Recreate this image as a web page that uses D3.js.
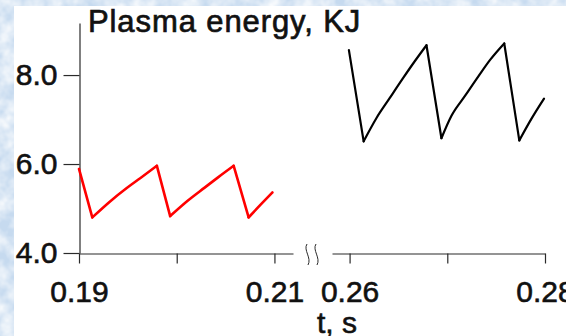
<!DOCTYPE html>
<html>
<head>
<meta charset="utf-8">
<script src="https://cdn.jsdelivr.net/npm/d3@7"></script>
<style>
  html, body { margin: 0; padding: 0; background: #cddff1; }
  svg { display: block; }
  text { font-family: "Liberation Sans", Arial, Helvetica, sans-serif; fill: #111; }
</style>
</head>
<body>
<svg id="chart" width="566" height="336"></svg>
<script>
// Plasma energy (kJ) against time (s), two windows of the discharge
const title = "Plasma energy, KJ";
const xTitle = "t, s";

const yTicks = [4.0, 6.0, 8.0];
const leftTicks = [0.19, 0.20, 0.21];
const leftTickLabels = ["0.19", "", "0.21"];
const rightTicks = [0.26, 0.27, 0.28];
const rightTickLabels = ["0.26", "", "0.28"];

// early window (red): each ramp starts at a crash minimum and climbs to the next peak
const earlyTime = [0.19000, 0.19136, 0.19318, 0.19489, 0.19626, 0.19797,
                   0.19933, 0.20115, 0.20286, 0.20423, 0.20583,
                   0.20736, 0.20856, 0.20979];
const earlyEnergy = [5.89, 4.80, 5.16, 5.46, 5.68, 5.96,
                     4.83, 5.18, 5.47, 5.70, 5.96,
                     4.80, 5.08, 5.36];

// late window (black)
const lateTime = [0.25993, 0.26144, 0.26274, 0.26410, 0.26547, 0.26667, 0.26787,
                  0.26940, 0.27044, 0.27181, 0.27318, 0.27438, 0.27583,
                  0.27737, 0.27862, 0.27990];
const lateEnergy = [8.56, 6.51, 7.03, 7.48, 7.93, 8.31, 8.67,
                    6.58, 7.09, 7.53, 7.97, 8.34, 8.71,
                    6.53, 7.02, 7.47];

const svg = d3.select("#chart");

// mottled blue backdrop
const defs = svg.append("defs");
const f = defs.append("filter").attr("id", "mottle")
  .attr("x", 0).attr("y", 0).attr("width", "100%").attr("height", "100%");
f.append("feTurbulence").attr("type", "fractalNoise")
  .attr("baseFrequency", 0.06).attr("numOctaves", 3).attr("seed", 7);
f.append("feColorMatrix").attr("type", "matrix")
  .attr("values", "0 0 0 0 1  0 0 0 0 1  0 0 0 0 1  1.6 0 0 0 -0.45");

svg.append("rect").attr("width", 566).attr("height", 336).attr("fill", "#c6daef");
svg.append("rect").attr("width", 566).attr("height", 336).attr("filter", "url(#mottle)");

// white plotting sheet
svg.append("rect").attr("x", 14).attr("y", 6).attr("width", 552).attr("height", 330)
  .attr("fill", "#ffffff");

const y = d3.scaleLinear().domain([4, 9.17]).range([253, 23]);
const xL = d3.scaleLinear().domain([0.19, 0.2119]).range([79, 293]);
const xR = d3.scaleLinear().domain([0.2582, 0.28]).range([332, 545]);

const axisColor = "#2a2a2a";
function styleAxis(g) {
  g.selectAll("path.domain").attr("stroke", axisColor).attr("stroke-width", 1.2);
  g.selectAll(".tick line").attr("stroke", axisColor).attr("stroke-width", 1.2);
  g.selectAll(".tick text").style("font-size", "30px")
    .style("font-family", "'Liberation Sans', Arial, sans-serif")
    .attr("fill", "#111").attr("stroke", "#111").attr("stroke-width", 0.6);
}

const gy = svg.append("g").attr("transform", "translate(79.5,0)")
  .call(d3.axisLeft(y).tickValues(yTicks).tickFormat(d3.format(".1f"))
    .tickSize(16).tickPadding(6).tickSizeOuter(0));
styleAxis(gy);

const gxL = svg.append("g").attr("transform", "translate(0,253.5)")
  .call(d3.axisBottom(xL).tickValues(leftTicks)
    .tickFormat((d, i) => leftTickLabels[i]).tickSize(10).tickPadding(17).tickSizeOuter(0));
styleAxis(gxL);

const gxR = svg.append("g").attr("transform", "translate(0,253.5)")
  .call(d3.axisBottom(xR).tickValues(rightTicks)
    .tickFormat((d, i) => rightTickLabels[i]).tickSize(10).tickPadding(17).tickSizeOuter(0));
styleAxis(gxR);

// axis break marks between the two windows
[308, 317].forEach(cx => {
  svg.append("path")
    .attr("d", `M${cx - 1},244 C${cx - 5},250 ${cx + 4},258 ${cx},265`)
    .attr("fill", "none").attr("stroke", axisColor).attr("stroke-width", 1);
});

// Draw a sawtooth trace: smooth rising ramps, straight crash drops.
function drawTrace(times, values, xs, color, width) {
  const pts = times.map((t, i) => [xs(t), y(values[i])]);
  // split into rising runs wherever the value falls
  const runs = [];
  let run = [pts[0]];
  for (let i = 1; i < pts.length; i++) {
    if (values[i] < values[i - 1]) {
      runs.push(run);
      svg.append("path").attr("d", d3.line()([pts[i - 1], pts[i]]))
        .attr("fill", "none").attr("stroke", color).attr("stroke-width", width)
        .attr("stroke-linecap", "round");
      run = [pts[i]];
    } else {
      run.push(pts[i]);
    }
  }
  runs.push(run);
  const smooth = d3.line().curve(d3.curveMonotoneX);
  runs.filter(r => r.length > 1).forEach(r => {
    svg.append("path").attr("d", smooth(r))
      .attr("fill", "none").attr("stroke", color).attr("stroke-width", width)
      .attr("stroke-linecap", "round");
  });
}

drawTrace(earlyTime, earlyEnergy, xL, "#ff0000", 2.6);
drawTrace(lateTime, lateEnergy, xR, "#000000", 2.2);

svg.append("text").attr("x", 88).attr("y", 32)
  .style("font-size", "31px").style("letter-spacing", "0.9px")
  .attr("stroke", "#111").attr("stroke-width", 0.7).text(title);
svg.append("text").attr("x", 337).attr("y", 333).attr("text-anchor", "middle")
  .style("font-size", "30px").attr("stroke", "#111").attr("stroke-width", 0.6).text(xTitle);
</script>
</body>
</html>
